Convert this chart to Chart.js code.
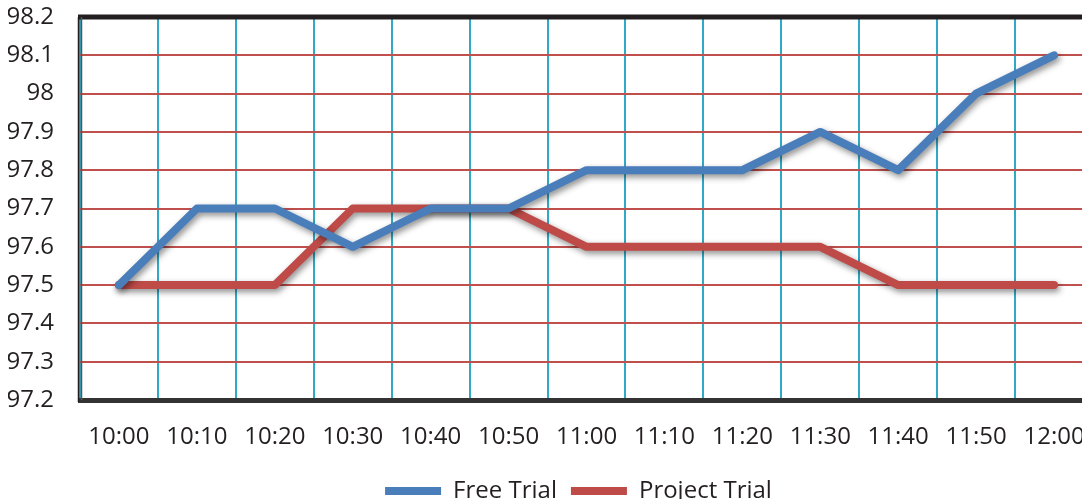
<!DOCTYPE html>
<html>
<head>
<meta charset="utf-8">
<script src="https://cdn.jsdelivr.net/npm/chart.js@4/dist/chart.umd.min.js"></script>
<style>
  html, body { margin: 0; padding: 0; background: #fff; overflow: hidden; }
  #wrap { position: absolute; left: 0; top: 0; width: 1100px; height: 513px; }
</style>
</head>
<body>
<div id="wrap"><canvas id="c"></canvas></div>
<script>
const categories = ['10:00','10:10','10:20','10:30','10:40','10:50','11:00','11:10','11:20','11:30','11:40','11:50','12:00'];
const freeTrial = [97.5, 97.7, 97.7, 97.6, 97.7, 97.7, 97.8, 97.8, 97.8, 97.9, 97.8, 98.0, 98.1];
const projectTrial = [97.5, 97.5, 97.5, 97.7, 97.7, 97.7, 97.6, 97.6, 97.6, 97.6, 97.5, 97.5, 97.5];
const yTickLabels = ['97.2','97.3','97.4','97.5','97.6','97.7','97.8','97.9','98','98.1','98.2'];
const yMin = 97.2, yMax = 98.2, yStep = 0.1;

const FONT = "'Open Sans', sans-serif";

const shadowPlugin = {
  id: 'lineShadow',
  beforeDatasetDraw(chart) {
    const ctx = chart.ctx;
    ctx.save();
    ctx.shadowColor = 'rgba(0,0,0,0.45)';
    ctx.shadowBlur = 6;
    ctx.shadowOffsetX = 2;
    ctx.shadowOffsetY = 3;
  },
  afterDatasetDraw(chart) {
    chart.ctx.restore();
  }
};

const legendShift = {
  id: 'legendShift',
  afterLayout(chart) {
    if (chart.legend) { chart.legend.left += 28; chart.legend.right += 28; }
  }
};

const framePlugin = {
  id: 'frame',
  afterDraw(chart) {
    const ctx = chart.ctx;
    const a = chart.chartArea;
    ctx.save();
    ctx.strokeStyle = '#231f20';
    ctx.lineWidth = 5;
    ctx.beginPath();
    ctx.moveTo(a.left - 2, a.top);
    ctx.lineTo(a.right + 10, a.top);
    ctx.stroke();
    ctx.lineWidth = 1.5;
    ctx.strokeStyle = '#231f20';
    ctx.beginPath();
    ctx.moveTo(a.left - 1.5, a.top);
    ctx.lineTo(a.left - 1.5, a.bottom + 2);
    ctx.stroke();
    ctx.strokeStyle = '#555';
    ctx.beginPath();
    ctx.moveTo(a.left + 1.5, a.top);
    ctx.lineTo(a.left + 1.5, a.bottom);
    ctx.stroke();
    ctx.restore();
  }
};

new Chart(document.getElementById('c'), {
  type: 'line',
  data: {
    labels: categories,
    datasets: [
      {
        label: 'Free Trial',
        data: freeTrial,
        borderColor: '#4a7ebb',
        backgroundColor: '#4a7ebb',
        borderWidth: 8,
        borderCapStyle: 'round',
        borderJoinStyle: 'round',
        pointRadius: 0,
        tension: 0
      },
      {
        label: 'Project Trial',
        data: projectTrial,
        borderColor: '#be4b48',
        backgroundColor: '#be4b48',
        borderWidth: 8,
        borderCapStyle: 'round',
        borderJoinStyle: 'round',
        pointRadius: 0,
        tension: 0
      }
    ]
  },
  options: {
    responsive: true,
    maintainAspectRatio: false,
    animation: false,
    layout: { padding: { left: 8, right: 7, top: 17, bottom: 0 } },
    plugins: {
      tooltip: { enabled: false },
      legend: {
        position: 'bottom',
        labels: {
          usePointStyle: true,
          pointStyle: 'line',
          pointStyleWidth: 56,
          font: { family: FONT, size: 24 },
          color: '#231f20',
          padding: 14
        }
      }
    },
    scales: {
      x: {
        offset: true,
        grid: {
          offset: true,
          color: '#31a8c6',
          lineWidth: 2,
          drawTicks: false
        },
        border: { display: true, color: '#333', width: 5 },
        ticks: {
          font: { family: FONT, size: 24 },
          color: '#231f20',
          padding: 23,
          maxRotation: 0,
          autoSkip: false
        },
        afterFit(s) { s.paddingLeft = 0; s.paddingRight = 0; s.height = 65; }
      },
      y: {
        min: yMin,
        max: yMax,
        grid: {
          color: '#c0504d',
          lineWidth: 2,
          drawTicks: false
        },
        border: { display: false },
        ticks: {
          stepSize: yStep,
          font: { family: FONT, size: 24 },
          color: '#231f20',
          padding: 26,
          callback: (v, i) => yTickLabels[i]
        },
        afterFit(s) { s.width = 72; s.paddingTop = 0; s.paddingBottom = 0; }
      }
    }
  },
  plugins: [shadowPlugin, framePlugin, legendShift]
});
</script>
</body>
</html>
